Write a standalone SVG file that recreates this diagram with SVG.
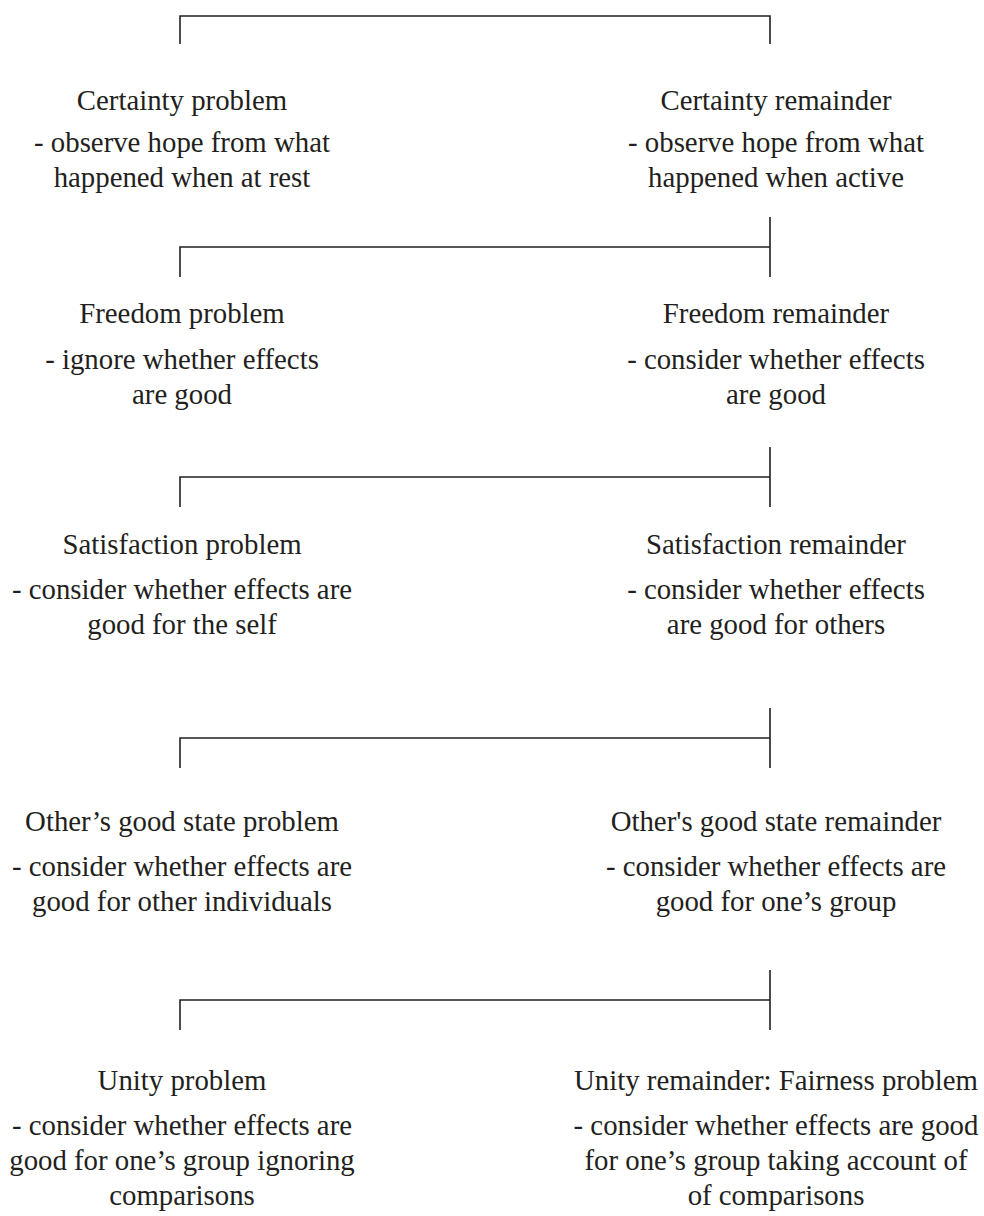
<svg xmlns="http://www.w3.org/2000/svg" width="984" height="1216" viewBox="0 0 984 1216">
<style>
.bg{fill:#fff}
.ln{stroke:#231f20;stroke-width:1.6;fill:none;stroke-linecap:butt}
.t{font-family:"Liberation Serif","Times New Roman",serif;font-size:28.8px;fill:#231f20;text-anchor:middle}
</style>
<rect class="bg" x="0" y="0" width="984" height="1216"/>
<g id="connectors">
<path class="ln" d="M180 44V16H770V44"/>
<path class="ln" d="M180 277V247H770M770 217V277"/>
<path class="ln" d="M180 507V477H770M770 447V507"/>
<path class="ln" d="M180 768V738H770M770 708V768"/>
<path class="ln" d="M180 1030V1000H770M770 970V1030"/>
</g>
<g id="certainty-problem">
<text class="t" x="182" y="110">Certainty problem</text>
<text class="t" x="182" y="152">- observe hope from what</text>
<text class="t" x="182" y="187">happened when at rest</text>
</g>
<g id="certainty-remainder">
<text class="t" x="776" y="110">Certainty remainder</text>
<text class="t" x="776" y="152">- observe hope from what</text>
<text class="t" x="776" y="187">happened when active</text>
</g>
<g id="freedom-problem">
<text class="t" x="182" y="323">Freedom problem</text>
<text class="t" x="182" y="369">- ignore whether effects</text>
<text class="t" x="182" y="404">are good</text>
</g>
<g id="freedom-remainder">
<text class="t" x="776" y="323">Freedom remainder</text>
<text class="t" x="776" y="369">- consider whether effects</text>
<text class="t" x="776" y="404">are good</text>
</g>
<g id="satisfaction-problem">
<text class="t" x="182" y="554">Satisfaction problem</text>
<text class="t" x="182" y="599">- consider whether effects are</text>
<text class="t" x="182" y="634">good for the self</text>
</g>
<g id="satisfaction-remainder">
<text class="t" x="776" y="554">Satisfaction remainder</text>
<text class="t" x="776" y="599">- consider whether effects</text>
<text class="t" x="776" y="634">are good for others</text>
</g>
<g id="others-problem">
<text class="t" x="182" y="831">Other’s good state problem</text>
<text class="t" x="182" y="876">- consider whether effects are</text>
<text class="t" x="182" y="911">good for other individuals</text>
</g>
<g id="others-remainder">
<text class="t" x="776" y="831">Other's good state remainder</text>
<text class="t" x="776" y="876">- consider whether effects are</text>
<text class="t" x="776" y="911">good for one’s group</text>
</g>
<g id="unity-problem">
<text class="t" x="182" y="1090">Unity problem</text>
<text class="t" x="182" y="1135">- consider whether effects are</text>
<text class="t" x="182" y="1170">good for one’s group ignoring</text>
<text class="t" x="182" y="1205">comparisons</text>
</g>
<g id="unity-remainder">
<text class="t" x="776" y="1090">Unity remainder: Fairness problem</text>
<text class="t" x="776" y="1135">- consider whether effects are good</text>
<text class="t" x="776" y="1170">for one’s group taking account of</text>
<text class="t" x="776" y="1205">of comparisons</text>
</g>
</svg>
